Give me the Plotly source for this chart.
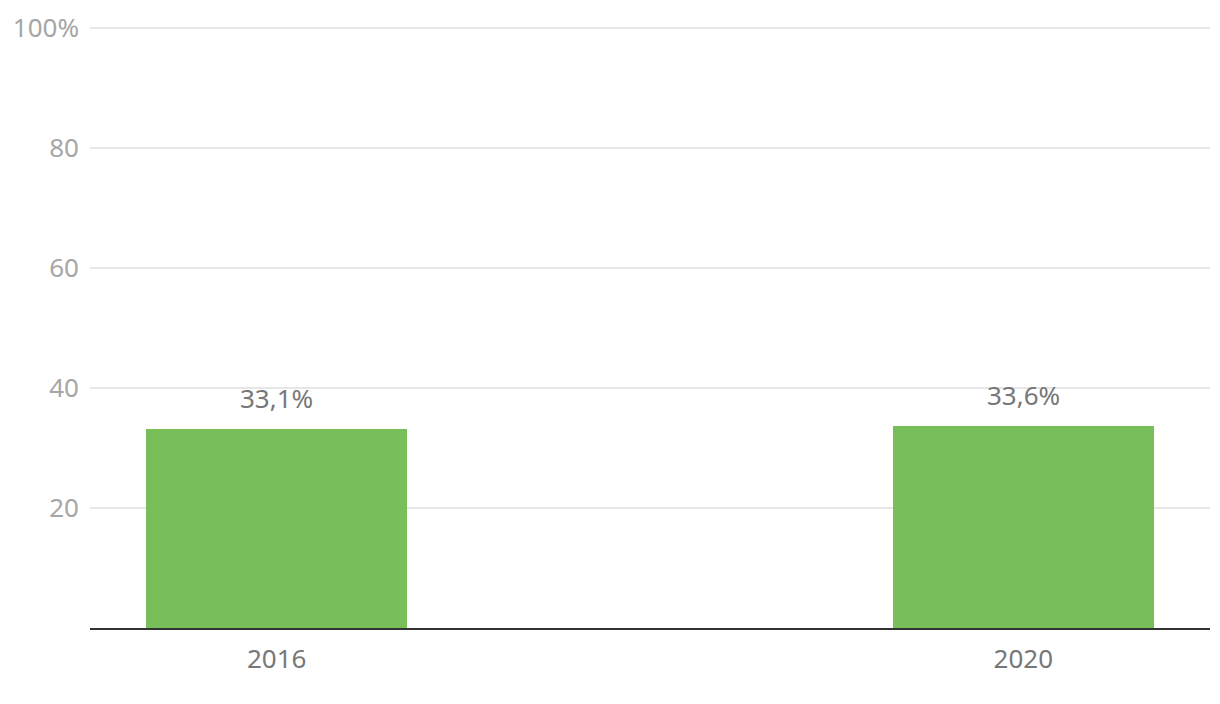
import plotly.graph_objects as go

years = [2016, 2020]
values = [33.1, 33.6]
labels = ["33,1%", "33,6%"]
y_tickvals = [20, 40, 60, 80, 100]
y_ticktext = ["20", "40", "60", "80", "100%"]

fig = go.Figure()
fig.add_trace(go.Bar(x=years, y=values, width=1.4, marker=dict(color="#78bf59", line=dict(width=0)),
                     hoverinfo="skip"))

for x, y, t in zip(years, values, labels):
    fig.add_annotation(x=x, y=y, text=t, showarrow=False, yshift=31, yanchor="middle",
                       font=dict(family="Noto Sans", size=26, color="#777777"))

fig.update_layout(
    width=1220, height=704,
    margin=dict(l=82, r=18, t=17, b=84, autoexpand=False),
    paper_bgcolor="white", plot_bgcolor="white",
    showlegend=False,
    bargap=0,
    font=dict(family="Noto Sans", size=26),
    xaxis=dict(range=[2015, 2021], tickvals=years, ticktext=[str(y) for y in years],
               showgrid=False, zeroline=False, showline=True, linecolor="#333333", linewidth=2,
               tickfont=dict(color="#777777", size=26), ticks="", ticklabelstandoff=7,
               automargin=False),
    yaxis=dict(range=[0, 100.5], tickvals=y_tickvals, ticktext=y_ticktext,
               showgrid=True, gridcolor="#e6e6e6", gridwidth=2, zeroline=False, showline=False,
               tickfont=dict(color="#a6a6a6", size=26), ticks="", ticklabelstandoff=10,
               automargin=False),
)

fig.write_html("out.html")
